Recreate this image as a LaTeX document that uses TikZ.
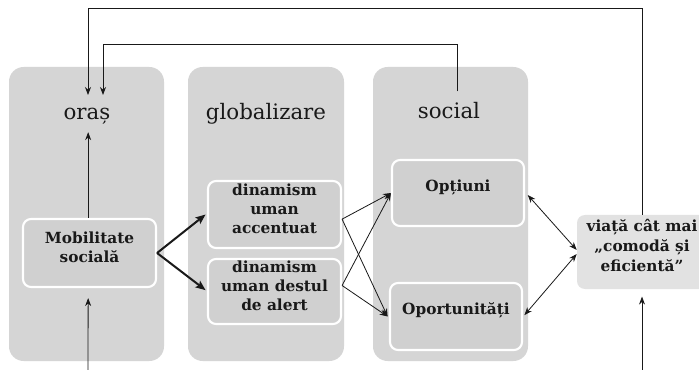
\documentclass[tikz,border=0pt]{standalone}
\usepackage{fontspec}
\setmainfont{DejaVu Serif}
\usetikzlibrary{arrows.meta,fit,calc}
\definecolor{panelgray}{RGB}{213,213,213}
\definecolor{boxgray}{RGB}{208,208,208}
\definecolor{lightbox}{RGB}{226,226,226}
\definecolor{ink}{RGB}{25,25,25}
\tikzset{
  panel/.style={fill=panelgray, draw=none, rounded corners=11pt, inner sep=0pt},
  title/.style={text=ink, font=\fontsize{16}{19}\selectfont, anchor=base},
  wbox/.style={fill=boxgray, draw=white, line width=1.6pt, rounded corners=6pt, inner sep=0pt,
    align=center, text=ink, font=\bfseries\fontsize{11.5}{14.5}\selectfont},
  lbox/.style={fill=lightbox, draw=none, rounded corners=6pt, inner sep=0pt,
    align=center, text=ink, font=\bfseries\fontsize{11.5}{15}\selectfont},
  thinarrow/.style={draw=ink, line width=0.6pt, -{Stealth[length=6pt,width=4.5pt]}},
  thinboth/.style={draw=ink, line width=0.6pt, {Stealth[length=6pt,width=4.5pt]}-{Stealth[length=6pt,width=4.5pt]}},
  thickarrow/.style={draw=ink, line width=1.5pt, -{Stealth[length=7.5pt,width=6pt,inset=1.5pt]}},
}
\begin{document}
\begin{tikzpicture}[x=0.75pt,y=-0.75pt]
\useasboundingbox (0,0) rectangle (699,370);
\fill[white] (0,0) rectangle (699,370);
% panels
\node[panel, fit={(9,67)(164,361)}] (p1) {};
\node[panel, fit={(188,67)(344,361)}] (p2) {};
\node[panel, fit={(373,67)(528,361)}] (p3) {};
% titles
\node[title] (oras) at (87,120) {oraș};
\node[title] (glob) at (266,120) {globalizare};
\node[title] (soc) at (449,119) {social};
% boxes
\node[wbox, fit={(23,219)(156,287)}] (mob) {Mobilitate\\socială};
\node[wbox, fit={(208,181)(341,248)}] (acc) {dinamism\\uman\\accentuat};
\node[wbox, fit={(208,259)(341,324)}] (des) {dinamism\\uman destul\\de alert};
\node[wbox, fit={(392,160)(524,226)}] (opt) {Opțiuni};
\node[wbox, fit={(390,283)(522,350)}] (opo) {Oportunități};
\node[lbox, fit={(577,215)(707,289)}] (via) {viață cât mai\\„comodă și\\eficientă”};
% coordinates
\coordinate (o1) at (88,95);
\coordinate (o2) at (103,95);
\coordinate (b1) at (88,372);
\coordinate (b2) at (642,372);
% connectors
\draw[thickarrow] (mob.east) -- ([xshift=-1pt]acc.west);
\draw[thickarrow] (mob.east) -- ([xshift=-1pt,yshift=1pt]des.west);
\draw[thinarrow] ([yshift=-3.5pt]acc.east) -- (opt.west);
\draw[thinarrow] ([yshift=-3.5pt]acc.east) -- ([xshift=-1pt]opo.west);
\draw[thinarrow] ([yshift=4.5pt]des.east) -- (opt.west);
\draw[thinarrow] ([yshift=4.5pt]des.east) -- ([xshift=-1pt]opo.west);
\draw[thinboth] ([xshift=2pt,yshift=-1.5pt]opt.east) -- ([yshift=1.5pt]via.west);
\draw[thinboth] ([xshift=1pt,yshift=1pt]opo.east) -- ([yshift=-1.5pt]via.west);
\draw[thinarrow] ([xshift=-1pt]mob.north) -- ([xshift=-1pt,yshift=-2pt]mob.north |- oras.south);
\draw[thinarrow] (b1) -- ([xshift=-1pt,yshift=-7.5pt]mob.south);
\draw[thinarrow] (b2) -- ([yshift=-5.5pt]via.south);
\draw[thinarrow] (via.north) |- ($(o1)+(0,-87)$) -- (o1);
\draw[thinarrow] ([xshift=6pt,yshift=5pt]soc.north) |- ($(o2)+(0,-51)$) -- (o2);
\end{tikzpicture}
\end{document}
